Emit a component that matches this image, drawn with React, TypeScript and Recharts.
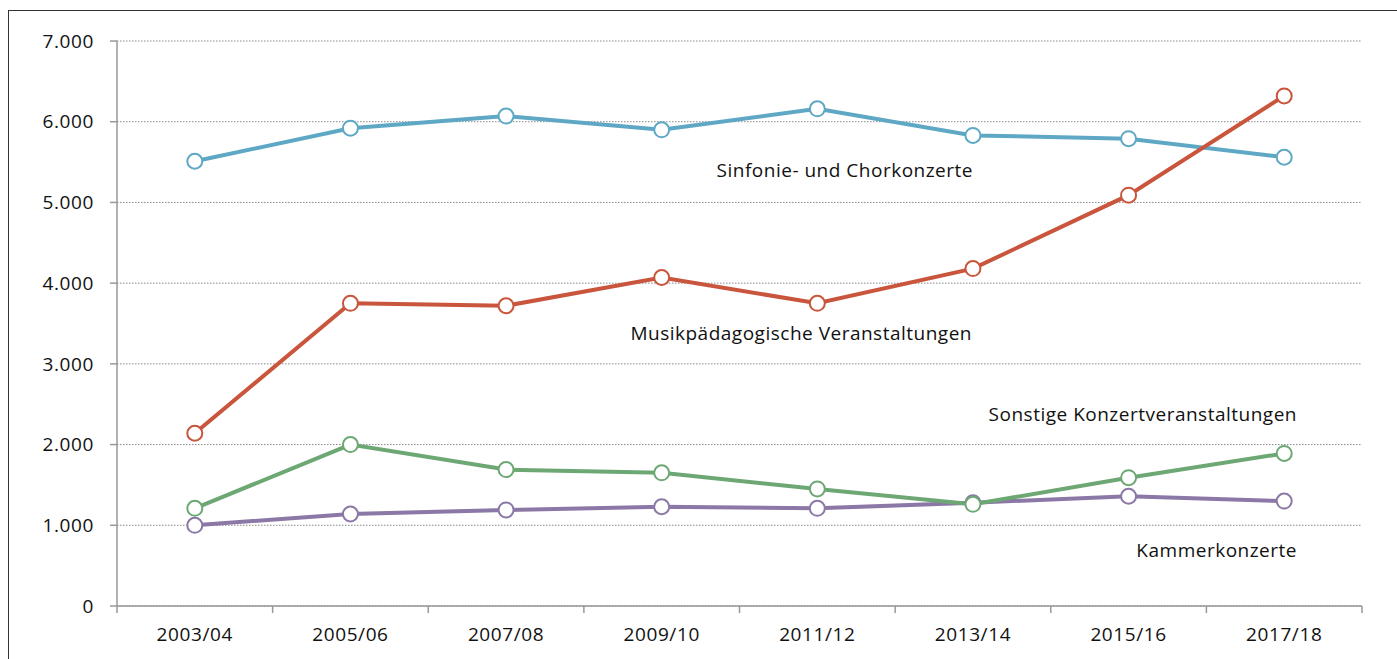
import React from 'react';
import { LineChart, Line, XAxis, YAxis, CartesianGrid } from 'recharts';

const seasons = ['2003/04', '2005/06', '2007/08', '2009/10', '2011/12', '2013/14', '2015/16', '2017/18'];
const sinfonie = [5510, 5920, 6070, 5900, 6160, 5830, 5790, 5560];
const musikpaed = [2140, 3750, 3720, 4070, 3750, 4180, 5090, 6320];
const sonstige = [1210, 2000, 1690, 1650, 1450, 1260, 1590, 1890];
const kammer = [1000, 1140, 1190, 1230, 1210, 1280, 1360, 1300];
const yTicks = [0, 1000, 2000, 3000, 4000, 5000, 6000, 7000];

const data = seasons.map((s, i) => ({
  season: s,
  sinfonie: sinfonie[i],
  musikpaed: musikpaed[i],
  sonstige: sonstige[i],
  kammer: kammer[i],
}));

const FONT = '"Open Sans", "Noto Sans", sans-serif';
const AXIS = '#999';
const HALF_STEP = 77.8;

const fmt = (v: number) => (v === 0 ? '0' : v.toLocaleString('de-DE'));

// x tick: label at the category, tick marks at the category borders
const SeasonTick = (props: any) => {
  const { x, y, payload, index } = props;
  const last = index === seasons.length - 1;
  return (
    <g>
      <line x1={x - HALF_STEP} x2={x - HALF_STEP} y1={y - 8} y2={y - 1} stroke={AXIS} strokeWidth={1.5} />
      {last && <line x1={x + HALF_STEP} x2={x + HALF_STEP} y1={y - 8} y2={y - 1} stroke={AXIS} strokeWidth={1.5} />}
      <text x={x} y={y + 27} textAnchor="middle" fontSize={19} letterSpacing={0.6} fill="#111" fontFamily={FONT}>
        {payload.value}
      </text>
    </g>
  );
};

// drawing order: green sits on top of purple, red on top of blue
const series = [
  { key: 'kammer', color: '#8B78A6' },
  { key: 'sinfonie', color: '#5EA8C5' },
  { key: 'musikpaed', color: '#C8553C' },
  { key: 'sonstige', color: '#6DA874' },
];

// right edge and vertical centre of each series label
const labels = [
  { text: 'Sinfonie- und Chorkonzerte', right: 973, top: 170 },
  { text: 'Musikpädagogische Veranstaltungen', right: 972, top: 333 },
  { text: 'Sonstige Konzertveranstaltungen', right: 1297, top: 414 },
  { text: 'Kammerkonzerte', right: 1297, top: 550 },
];

export default function App() {
  return (
    <div style={{ position: 'absolute', left: 0, top: 0, width: 1397, height: 659, background: '#fff', overflow: 'hidden' }}>
      <div style={{ position: 'absolute', left: 8, top: 10, width: 1400, height: 700, border: '1.5px solid #333' }} />
      <div style={{ position: 'absolute', left: 0, top: 0 }}>
        <LineChart width={1397} height={659} data={data} margin={{ top: 41, right: 35, left: 57, bottom: 23 }}>
          <CartesianGrid vertical={false} stroke="#888" strokeDasharray="1.5 1.5" />
          <XAxis
            dataKey="season"
            padding={{ left: HALF_STEP, right: HALF_STEP }}
            stroke={AXIS}
            strokeWidth={1.5}
            tickLine={false}
            height={30}
            interval={0}
            tick={<SeasonTick />}
          />
          <YAxis
            width={60}
            domain={[0, 7000]}
            ticks={yTicks}
            interval={0}
            tickFormatter={fmt}
            stroke={AXIS}
            strokeWidth={1.5}
            tickSize={7}
            tickMargin={16}
            tick={{ fontSize: 19, letterSpacing: 0.6, fill: '#111', fontFamily: FONT }}
          />
          {series.map((s) => (
            <Line
              key={s.key}
              dataKey={s.key}
              type="linear"
              stroke={s.color}
              strokeWidth={4}
              dot={{ r: 7.5, fill: '#fff', stroke: s.color, strokeWidth: 2 }}
              activeDot={false}
              isAnimationActive={false}
            />
          ))}
        </LineChart>
      </div>
      {labels.map((l) => (
        <div
          key={l.text}
          style={{
            position: 'absolute',
            right: 1397 - l.right,
            top: l.top,
            transform: 'translateY(-50%)',
            fontFamily: FONT,
            fontSize: 19,
            letterSpacing: 0.5,
            color: '#111',
            whiteSpace: 'nowrap',
          }}
        >
          {l.text}
        </div>
      ))}
    </div>
  );
}
